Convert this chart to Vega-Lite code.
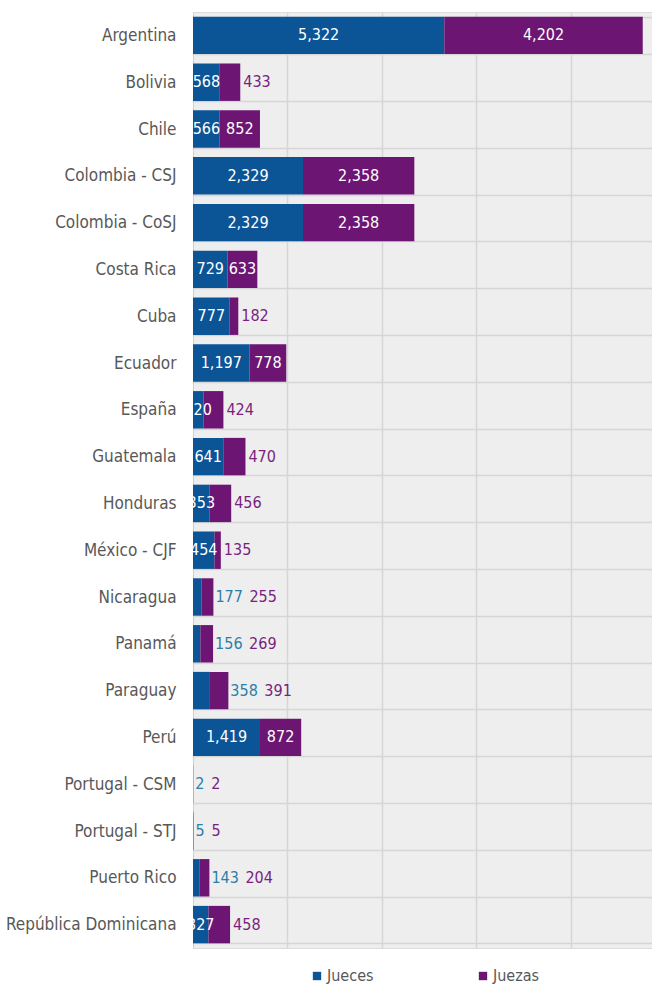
{
  "$schema": "https://vega.github.io/schema/vega-lite/v6.json",
  "autosize": {"type": "none"},
  "padding": {"left": 193, "top": 12, "right": 0, "bottom": 38},
  "width": 459,
  "height": 936,
  "background": "#ffffff",
  "config": {
    "view": {"fill": "#eeeeee", "stroke": "#dcdcdc", "strokeWidth": 1},
    "font": "Liberation Sans Narrow, DejaVu Sans Condensed, sans-serif"
  },
  "data": {
    "values": [
      {"pais": "Argentina", "Jueces": 5322, "Juezas": 4202},
      {"pais": "Bolivia", "Jueces": 568, "Juezas": 433},
      {"pais": "Chile", "Jueces": 566, "Juezas": 852},
      {"pais": "Colombia - CSJ", "Jueces": 2329, "Juezas": 2358},
      {"pais": "Colombia - CoSJ", "Jueces": 2329, "Juezas": 2358},
      {"pais": "Costa Rica", "Jueces": 729, "Juezas": 633},
      {"pais": "Cuba", "Jueces": 777, "Juezas": 182},
      {"pais": "Ecuador", "Jueces": 1197, "Juezas": 778},
      {"pais": "España", "Jueces": 220, "Juezas": 424},
      {"pais": "Guatemala", "Jueces": 641, "Juezas": 470},
      {"pais": "Honduras", "Jueces": 353, "Juezas": 456},
      {"pais": "México - CJF", "Jueces": 454, "Juezas": 135},
      {"pais": "Nicaragua", "Jueces": 177, "Juezas": 255},
      {"pais": "Panamá", "Jueces": 156, "Juezas": 269},
      {"pais": "Paraguay", "Jueces": 358, "Juezas": 391},
      {"pais": "Perú", "Jueces": 1419, "Juezas": 872},
      {"pais": "Portugal - CSM", "Jueces": 2, "Juezas": 2},
      {"pais": "Portugal - STJ", "Jueces": 5, "Juezas": 5},
      {"pais": "Puerto Rico", "Jueces": 143, "Juezas": 204},
      {"pais": "República Dominicana", "Jueces": 327, "Juezas": 458}
    ]
  },
  "transform": [
    {"calculate": "datum.Jueces >= 200 && datum.pais != 'Paraguay'", "as": "azulDentro"},
    {"calculate": "datum.Juezas >= 600", "as": "moradoDentro"},
    {"calculate": "datum.Jueces + datum.Juezas", "as": "total"}
  ],
  "encoding": {
    "y": {
      "field": "pais",
      "type": "nominal",
      "sort": null,
      "scale": {"paddingInner": 0.2, "paddingOuter": 0.1},
      "axis": {
        "title": null,
        "ticks": false,
        "domain": true,
        "domainColor": "#cfcfcf",
        "grid": true,
        "tickBand": "extent",
        "gridColor": "#d6d6d6",
        "gridWidth": 1.5,
        "labelFontSize": 17,
        "labelColor": "#585858",
        "labelPadding": 17,
        "labelLimit": 200
      }
    }
  },
  "layer": [
    {
      "transform": [
        {"fold": ["Jueces", "Juezas"], "as": ["genero", "valor"]}
      ],
      "mark": {"type": "bar"},
      "encoding": {
        "x": {
          "field": "valor",
          "type": "quantitative",
          "stack": "zero",
          "scale": {"domain": [0, 9720], "nice": false},
          "axis": {
            "title": null,
            "labels": false,
            "ticks": false,
            "domain": false,
            "grid": true,
            "gridColor": "#d6d6d6",
            "gridWidth": 1.5,
            "values": [2000, 4000, 6000, 8000]
          }
        },
        "color": {
          "field": "genero",
          "type": "nominal",
          "scale": {"domain": ["Jueces", "Juezas"], "range": ["#0b5496", "#6d1572"]},
          "legend": {
            "title": null,
            "orient": "none",
            "direction": "horizontal",
            "legendX": 116,
            "legendY": 956,
            "symbolType": "square",
            "symbolSize": 70,
            "symbolStrokeWidth": 0,
            "symbolOffset": 0,
            "labelOffset": 2,
            "labelFontSize": 16,
            "labelColor": "#585858",
            "columnPadding": 101
          }
        },
        "order": {"field": "genero", "sort": "ascending"}
      }
    },
    {
      "transform": [
        {"filter": "datum.azulDentro"},
        {"calculate": "datum.Jueces / 2", "as": "xEtiqueta"}
      ],
      "mark": {"type": "text", "color": "#ffffff", "fontSize": 16, "align": "center", "baseline": "middle", "clip": true},
      "encoding": {
        "x": {"field": "xEtiqueta", "type": "quantitative"},
        "text": {"field": "Jueces", "type": "quantitative", "format": ","}
      }
    },
    {
      "transform": [
        {"filter": "datum.moradoDentro"},
        {"calculate": "datum.Jueces + datum.Juezas / 2", "as": "xEtiqueta"}
      ],
      "mark": {"type": "text", "color": "#ffffff", "fontSize": 16, "align": "center", "baseline": "middle", "clip": true},
      "encoding": {
        "x": {"field": "xEtiqueta", "type": "quantitative"},
        "text": {"field": "Juezas", "type": "quantitative", "format": ","}
      }
    },
    {
      "transform": [
        {"filter": "!datum.azulDentro"}
      ],
      "mark": {"type": "text", "color": "#2a7fab", "fontSize": 16, "align": "left", "baseline": "middle", "dx": 2},
      "encoding": {
        "x": {"field": "total", "type": "quantitative"},
        "text": {"field": "Jueces", "type": "quantitative", "format": ","}
      }
    },
    {
      "transform": [
        {"filter": "!datum.moradoDentro"},
        {"calculate": "datum.total + (datum.azulDentro ? 0 : (length(format(datum.Jueces, ',')) * 9 + 6) * 9720 / 459)", "as": "xEtiqueta"}
      ],
      "mark": {"type": "text", "color": "#7a1f7f", "fontSize": 16, "align": "left", "baseline": "middle", "dx": 3},
      "encoding": {
        "x": {"field": "xEtiqueta", "type": "quantitative"},
        "text": {"field": "Juezas", "type": "quantitative", "format": ","}
      }
    }
  ]
}
